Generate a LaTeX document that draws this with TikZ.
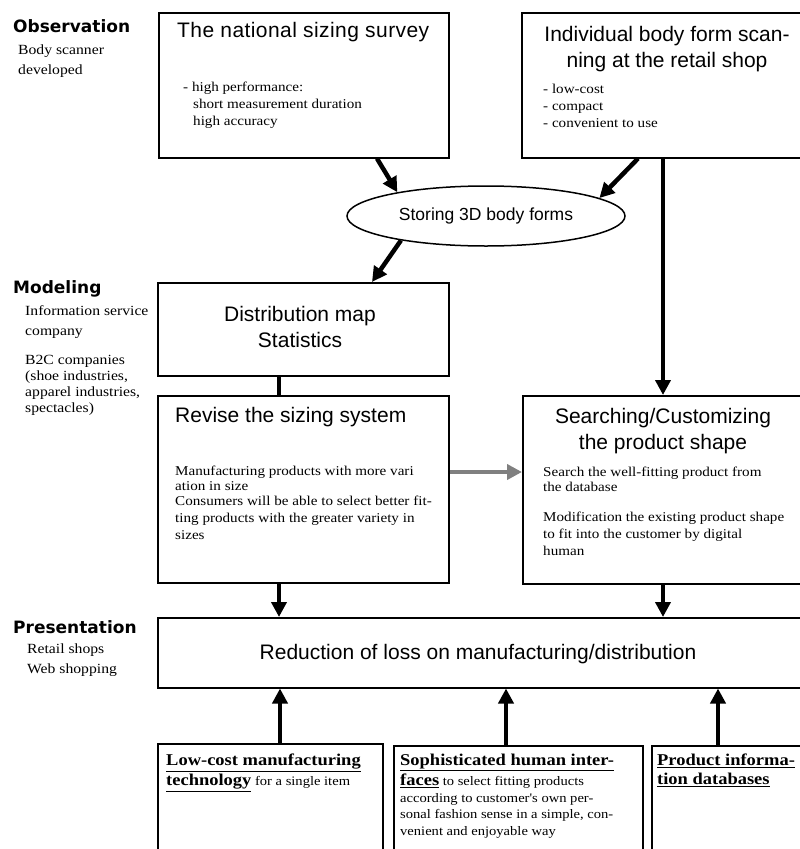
\documentclass[tikz,border=0pt]{standalone}
\usepackage{fontspec}
\setmainfont{Liberation Serif}
\newfontfamily\titlefont{Liberation Sans}
\newfontfamily\bodyfont{Liberation Serif}[FakeStretch=1.12]
\newfontfamily\headfont{DejaVu Sans Bold}
\usetikzlibrary{arrows.meta,shapes.geometric,calc}
\begin{document}
\begin{tikzpicture}[x=1pt,y=-1pt,
  box/.style={draw,line width=1.5pt,inner sep=0pt,anchor=north west},
  arr/.style={line width=4.5pt,-{Triangle[length=15pt,width=15pt]}},
  plainline/.style={line width=4.5pt},
  ttl/.style={font=\titlefont\fontsize{21}{26}\selectfont,inner sep=0pt},
  txt/.style={font=\bodyfont\fontsize{13.5}{17}\selectfont,inner sep=0pt,align=left,anchor=north west},
  side/.style={font=\bodyfont\fontsize{14}{20}\selectfont,inner sep=0pt,align=left,anchor=north west},
  head/.style={font=\headfont\fontsize{17}{20}\selectfont,inner sep=0pt,anchor=base west},
  btxt/.style={font=\bodyfont\fontsize{13}{16.5}\selectfont,inner sep=0pt,align=left,anchor=north west}]
\clip (0,0) rectangle (800,849);
\fill[white] (0,0) rectangle (800,849);

% boxes
\node[box,minimum width=290pt,minimum height=145pt] (survey) at (158,12) {};
\node[box,minimum width=282pt,minimum height=145pt] (retail) at (521,12) {};
\node[draw,ellipse,line width=1.5pt,minimum width=278pt,minimum height=60pt,inner sep=0pt,
      font=\titlefont\fontsize{17.5}{20}\selectfont] (store) at (486,216) {Storing 3D body forms};
\node[box,minimum width=291pt,minimum height=93pt] (dist) at (157,282) {};
\node[box,minimum width=291pt,minimum height=187pt] (revise) at (157,395) {};
\node[box,minimum width=281pt,minimum height=188pt] (search) at (522,395) {};
\node[box,minimum width=646pt,minimum height=70pt] (reduce) at (157,617) {};
\node[box,minimum width=225pt,minimum height=120pt] (b1) at (157,743) {};
\node[box,minimum width=249pt,minimum height=120pt] (b2) at (393,745) {};
\node[box,minimum width=152pt,minimum height=120pt] (b3) at (651,745) {};

% connectors
\draw[arr] ($(survey.south west)+(219,0)$) -- (store.165);
\draw[arr] ($(retail.south west)+(117,0)$) -- (store.9);
\draw[arr] (store.196) -- ($(dist.north west)+(215,0)$);
\draw[arr] ($(retail.south west)+(142,0)$) -- ($(search.north west)+(141,0)$);
\draw[plainline] ($(dist.south west)+(122,0)$) -- ($(revise.north west)+(122,0)$);
\draw[arr,gray] ($(revise.north east)+(0,77)$) -- ($(search.north west)+(0,77)$);
\draw[arr] ($(revise.south west)+(122,0)$) -- ($(reduce.north west)+(122,0)$);
\draw[arr] ($(search.south west)+(141,0)$) -- ($(reduce.north west)+(506,0)$);
\draw[arr] ($(b1.north west)+(123,0)$) -- ($(reduce.south west)+(123,0)$);
\draw[arr] ($(b2.north west)+(113,0)$) -- ($(reduce.south west)+(349,0)$);
\draw[arr] ($(b3.north west)+(67,0)$) -- ($(reduce.south west)+(561,0)$);

% titles
\node[ttl,anchor=base west] (t1) at (177,37) {\addfontfeature{LetterSpace=2}The national sizing survey};
\node[ttl,align=center,anchor=north] (t2) at (667,26) {Individual body form scan-\\ning at the retail shop};
\node[ttl,align=center,anchor=north] (t3) at (300,306) {Distribution map\\Statistics};
\node[ttl,anchor=base west] (t4) at (175,422) {Revise the sizing system};
\node[ttl,align=center,anchor=north] (t5) at (663,408) {Searching/Customizing\\the product shape};
\node[ttl,anchor=base] (t6) at (478,659) {Reduction of loss on manufacturing/distribution};

% body texts
\node[txt] (s1) at (183,82) {- high performance:\\\hspace*{10pt}short measurement duration\\\hspace*{10pt}high accuracy};
\node[txt] (r1) at (543,84) {- low-cost\\- compact\\- convenient to use};
\node[txt,font=\bodyfont\fontsize{13.5}{15}\selectfont] (v1) at (175,466) {Manufacturing products with more vari\\ation in size};
\node[txt] (v2) at (175,496) {Consumers will be able to select better fit-\\ting products with the greater variety in\\sizes};
\node[txt,font=\bodyfont\fontsize{13.5}{15}\selectfont] (c1) at (543,467) {Search the well-fitting product from\\the database};
\node[txt] (c2) at (543,512) {Modification the existing product shape\\to fit into the customer by digital\\human};

% left column
\node[head] (h1) at (13,32) {Observation};
\node[side] (l1) at (18,45) {Body scanner\\developed};
\node[head] (h2) at (13,293) {Modeling};
\node[side] (l2) at (25,305) {Information service\\company};
\node[side,font=\bodyfont\fontsize{14}{16}\selectfont] (l3) at (25,355) {B2C companies\\(shoe industries,\\apparel industries,\\spectacles)};
\node[head] (h3) at (13,633) {Presentation};
\node[side] (l4) at (27,644) {Retail shops\\Web shopping};

% bottom boxes
\newcommand{\bu}[1]{{\fontsize{16.5}{16.5}\selectfont\bfseries\underline{#1}}}
\node[btxt] (x1) at (166,754) {\bu{Low-cost manufacturing}\\[2pt]\bu{technology} for a single item};
\node[btxt] (x2) at (400,754) {\bu{Sophisticated human inter-}\\[2pt]\bu{faces} to select fitting products\\according to customer's own per-\\sonal fashion sense in a simple, con-\\venient and enjoyable way};
\node[btxt] (x3) at (657,754) {\bu{Product informa-}\\[2pt]\bu{tion databases}};
\end{tikzpicture}
\end{document}
